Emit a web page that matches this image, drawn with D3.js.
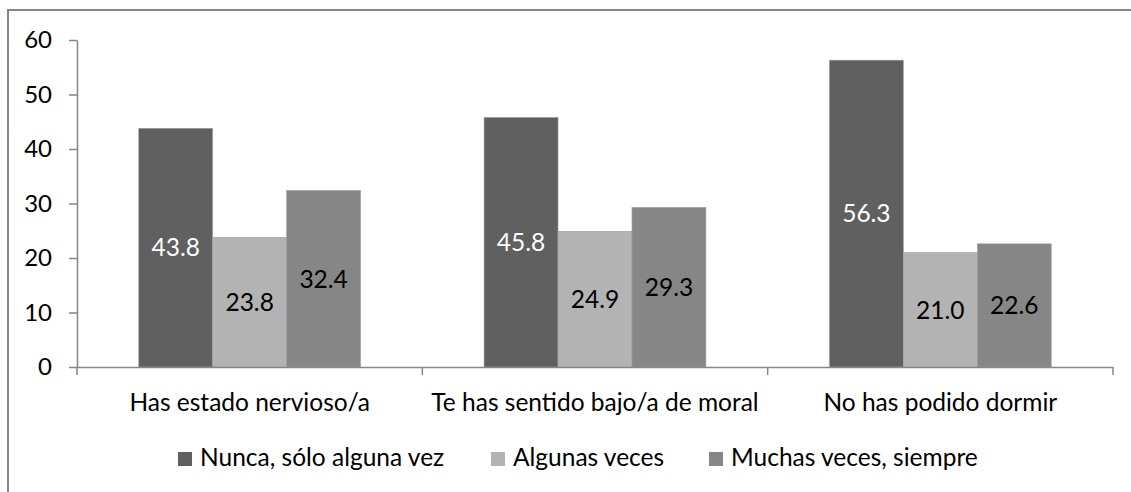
<!DOCTYPE html>
<html>
<head>
<meta charset="utf-8">
<script src="https://cdn.jsdelivr.net/npm/d3@7"></script>
<style>
  body { margin: 0; background: #fff; }
  text { font-family: Lato, "Liberation Sans", sans-serif; }
</style>
</head>
<body>
<script>
// chart data
var categories = ["Has estado nervioso/a", "Te has sentido bajo/a de moral", "No has podido dormir"];
var seriesNames = ["Nunca, sólo alguna vez", "Algunas veces", "Muchas veces, siempre"];
var nunca = [43.8, 45.8, 56.3];
var algunas = [23.8, 24.9, 21.0];
var muchas = [32.4, 29.3, 22.6];
var yTicks = [0, 10, 20, 30, 40, 50, 60];

var colors = ["#606060", "#b3b3b3", "#868686"];
var labelColors = ["#ffffff", "#000000", "#000000"];

var width = 1131;
var height = 492;
var margin = {top: 40, right: 18, bottom: 125, left: 77};
var fontSize = "24.5px";

var svg = d3.select("body")
            .append("svg")
            .attr("width", width)
            .attr("height", height);

// outer frame (runs off the right and bottom of the picture)
svg.append("rect")
   .attr("x", 8)
   .attr("y", 10)
   .attr("width", width + 20)
   .attr("height", height + 20)
   .attr("fill", "none")
   .attr("stroke", "#868686")
   .attr("stroke-width", 2);

var series = [nunca, algunas, muchas];
var rows = [];
categories.forEach(function(c, i){
    series.forEach(function(s, j){
        rows.push({cat: c, idx: j, value: s[i]});
    });
});

var x0 = d3.scaleBand()
           .domain(categories)
           .range([margin.left, width - margin.right])
           .paddingInner(0)
           .paddingOuter(0);

var x1 = d3.scaleBand()
           .domain(d3.range(seriesNames.length))
           .range([0, x0.bandwidth()])
           .paddingInner(0)
           .paddingOuter(0.835);

var y = d3.scaleLinear()
          .domain([0, 60])
          .range([height - margin.bottom, margin.top]);

// y axis
var yAxis = svg.append("g")
               .attr("transform", "translate(" + margin.left + ",0)")
               .call(d3.axisLeft(y).tickValues(yTicks).tickSize(8).tickPadding(17).tickSizeOuter(0));
yAxis.select(".domain").attr("stroke", "#868686").attr("stroke-width", 1.5);
yAxis.selectAll(".tick line").attr("stroke", "#868686").attr("stroke-width", 1.5);
yAxis.selectAll(".tick text")
     .attr("font-size", "24px")
     .attr("fill", "#000")
     .attr("font-family", "Lato, sans-serif");

// bars
svg.selectAll(".bar")
   .data(rows)
   .enter()
   .append("rect")
   .attr("class", "bar")
   .attr("x", function(d){ return x0(d.cat) + x1(d.idx); })
   .attr("y", function(d){ return y(d.value); })
   .attr("width", x1.bandwidth())
   .attr("height", function(d){ return y(0) - y(d.value); })
   .attr("fill", function(d){ return colors[d.idx]; })
   .attr("stroke", "#a0a0a0")
   .attr("stroke-width", 0.6);

// value labels in the middle of each bar
svg.selectAll(".valueLabel")
   .data(rows)
   .enter()
   .append("text")
   .attr("class", "valueLabel")
   .attr("x", function(d){ return x0(d.cat) + x1(d.idx) + x1.bandwidth() / 2; })
   .attr("y", function(d){ return (y(d.value) + y(0)) / 2; })
   .attr("dy", "0.36em")
   .attr("text-anchor", "middle")
   .attr("font-size", fontSize)
   .attr("fill", function(d){ return labelColors[d.idx]; })
   .text(function(d){ return d.value.toFixed(1); });

// x axis
var xAxis = svg.append("g")
               .attr("transform", "translate(0," + y(0) + ")")
               .call(d3.axisBottom(x0).tickSize(0).tickPadding(27));
xAxis.select(".domain").attr("stroke", "#868686").attr("stroke-width", 1.5);
xAxis.selectAll(".tick text")
     .attr("font-size", fontSize)
     .attr("fill", "#000")
     .attr("font-family", "Lato, sans-serif");

// category separators on the x axis
var seps = categories.map(function(c){ return x0(c); }).concat([x0.range()[1]]);
svg.selectAll(".sep")
   .data(seps)
   .enter()
   .append("line")
   .attr("x1", function(d){ return d; })
   .attr("x2", function(d){ return d; })
   .attr("y1", y(0))
   .attr("y2", y(0) + 8)
   .attr("stroke", "#868686")
   .attr("stroke-width", 1.5);

// legend
var legendX = [178, 491, 709];
var legend = svg.selectAll(".legendItem")
                .data(seriesNames)
                .enter()
                .append("g")
                .attr("class", "legendItem")
                .attr("transform", function(d, i){ return "translate(" + legendX[i] + ",452)"; });
legend.append("rect")
      .attr("width", 14)
      .attr("height", 14)
      .attr("fill", function(d, i){ return colors[i]; });
legend.append("text")
      .attr("x", 22)
      .attr("y", 14)
      .attr("font-size", fontSize)
      .attr("fill", "#000")
      .text(function(d){ return d; });
</script>
</body>
</html>
